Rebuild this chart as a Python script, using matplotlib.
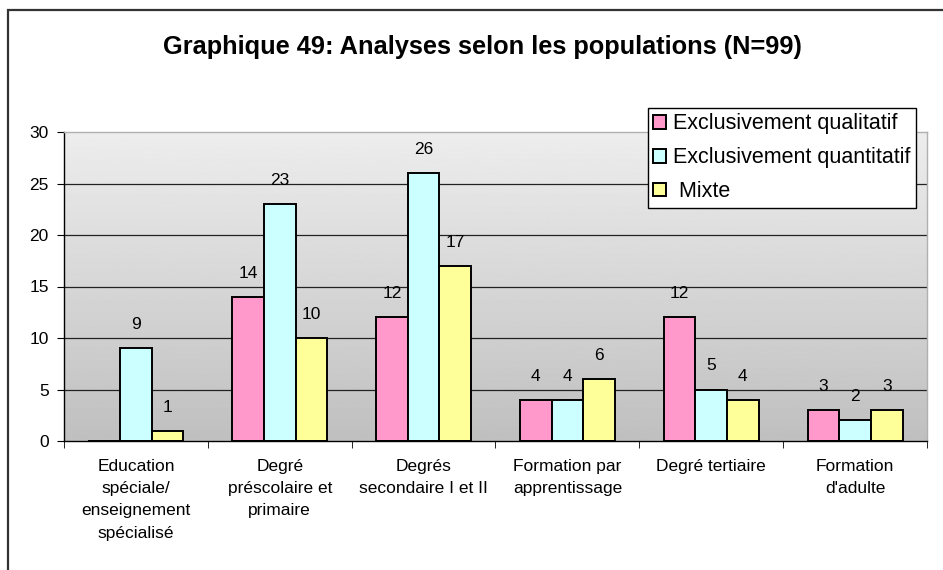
import numpy as np
import matplotlib

matplotlib.use("Agg")
import matplotlib.pyplot as plt
from matplotlib.patches import Rectangle

plt.rcParams["font.family"] = ["Liberation Sans", "DejaVu Sans"]

categories = [
    "Education\nspéciale/\nenseignement\nspécialisé",
    "Degré\npréscolaire et\nprimaire",
    "Degrés\nsecondaire I et II",
    "Formation par\napprentissage",
    "Degré tertiaire",
    "Formation\nd'adulte",
]
series_names = ["Exclusivement qualitatif", "Exclusivement quantitatif", " Mixte"]
qualitatif = [0, 14, 12, 4, 12, 3]
quantitatif = [9, 23, 26, 4, 5, 2]
mixte = [1, 10, 17, 6, 4, 3]
colors = ["#FF99CC", "#CCFFFF", "#FFFF99"]

fig = plt.figure(figsize=(9.43, 5.70), dpi=100)
fig.patch.set_facecolor("white")

# chart frame (runs off the right and bottom edges)
fig.patches.append(Rectangle((8 / 943, -0.1), 1.2, 1.1 - 10 / 570, transform=fig.transFigure,
                             fill=False, edgecolor="#333333", linewidth=1.6))

ax = fig.add_axes([64 / 943, 1 - 441 / 570, (927 - 64) / 943, (441 - 132) / 570])

n = len(categories)
x = np.arange(n)
width = 0.22
ax.set_xlim(-0.5, n - 0.5)
ax.set_ylim(0, 30)

# grey gradient background of the plot area
grad = np.linspace(0.75, 0.93, 256).reshape(-1, 1)
ax.imshow(grad, cmap="gray", vmin=0, vmax=1, aspect="auto", origin="lower",
          extent=[-0.5, n - 0.5, 0, 30], zorder=0)

for y in range(5, 30, 5):
    ax.axhline(y, color="#222222", linewidth=0.9, zorder=1)

for i, (vals, col, name) in enumerate(zip([qualitatif, quantitatif, mixte], colors, series_names)):
    pos = x + (i - 1) * width
    ax.bar(pos, vals, width, color=col, edgecolor="black", linewidth=1.4, zorder=2, label=name)
    for xp, v in zip(pos, vals):
        if v > 0:
            ax.annotate(str(v), (xp, v), xytext=(0, 17), textcoords="offset points",
                        ha="center", va="center", fontsize=12.5, zorder=3)

ax.set_yticks(range(0, 31, 5))
ax.set_xticks(x)
ax.set_xticklabels(categories, fontsize=12.5, linespacing=1.6, va="top")
ax.set_xticks(np.arange(-0.5, n, 1.0), minor=True)
ax.tick_params(axis="x", which="major", length=0, pad=13)
ax.tick_params(axis="x", which="minor", length=5, color="black", direction="out")
ax.tick_params(axis="y", length=5, color="black", labelsize=12.5, pad=6)

for side in ["top", "right"]:
    ax.spines[side].set_color("#b0b0b0")
    ax.spines[side].set_linewidth(1.0)
for side in ["left", "bottom"]:
    ax.spines[side].set_color("black")
    ax.spines[side].set_linewidth(1.0)

leg = fig.legend(loc="upper left", bbox_to_anchor=(648 / 943, 1 - 108 / 570), fontsize=15.5,
                 frameon=True, fancybox=False, edgecolor="black", framealpha=1,
                 handlelength=0.6, handleheight=0.6, handletextpad=0.3, borderpad=0.25,
                 labelspacing=0.6, borderaxespad=0)
leg.get_frame().set_linewidth(1.0)

fig.text(482 / 943, 1 - 47 / 570, "Graphique 49: Analyses selon les populations (N=99)",
         ha="center", va="center", fontsize=18.3, fontweight="bold")

fig.savefig("out.png", dpi=100)
